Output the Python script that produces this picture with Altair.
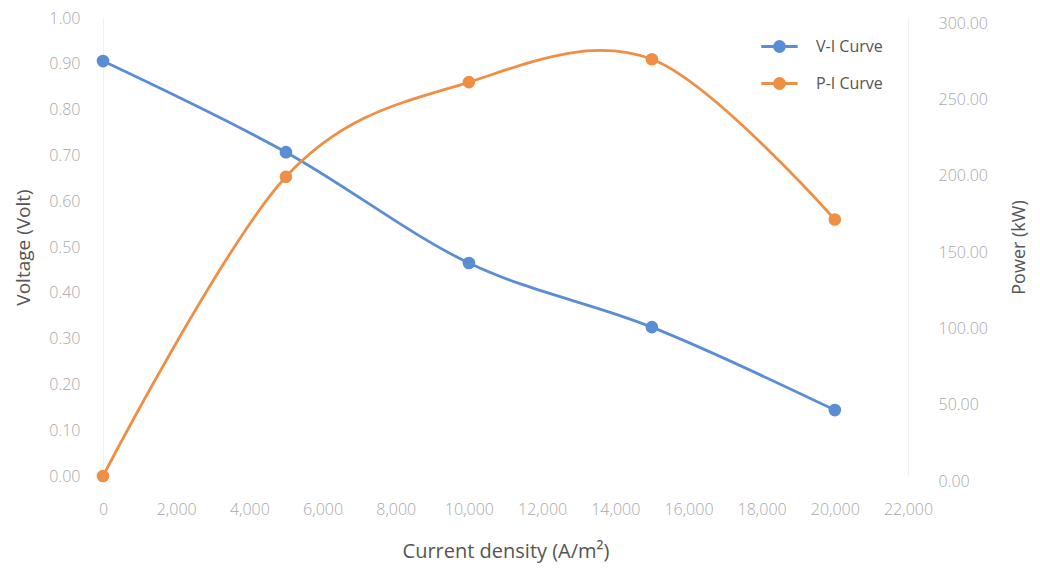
import altair as alt
import pandas as pd

current = [0, 5000, 10000, 15000, 20000]
voltage = [0.906, 0.707, 0.465, 0.325, 0.144]
power = [0.0, 196.0, 258.0, 273.0, 168.0]
series = ["V-I Curve", "P-I Curve"]
colors = ["#5b8dd5", "#ee8f45"]

dv = pd.DataFrame({"I": current, "val": voltage, "s": series[0]})
dp = pd.DataFrame({"I": current, "val": power, "s": series[1]})

FONT = "Open Sans"
xenc = alt.X("I:Q", scale=alt.Scale(domain=[0, 22000], nice=False),
             axis=alt.Axis(values=list(range(0, 22001, 2000)), format=",d",
                           title="Current density (A/m²)", grid=False, ticks=False,
                           labelFlush=False, labelOverlap=False, titleFontSize=20,
                           domain=False, labelPadding=25, titlePadding=24))
color = alt.Color("s:N", scale=alt.Scale(domain=series, range=colors),
                  legend=alt.Legend(title=None, orient="none", legendX=666, legendY=18,
                                    symbolType="M-2,0L-0.55,0M0.55,0L2,0M-0.55,0A0.55,0.55 0 1,1 0.55,0A0.55,0.55 0 1,1 -0.55,0",
                                    symbolSize=330, symbolStrokeWidth=2.8,
                                    labelFontSize=16, labelColor="#555555", labelFont=FONT,
                                    rowPadding=14, symbolOffset=0, labelOffset=26))

vl = alt.Chart(dv).mark_line(interpolate="cardinal", strokeWidth=2.8,
                             point=alt.OverlayMarkDef(filled=True, size=160)).encode(
    x=xenc,
    y=alt.Y("val:Q", scale=alt.Scale(domain=[0, 1], nice=False),
            axis=alt.Axis(values=[i / 10 for i in range(11)], format=".2f", title="Voltage (Volt)",
                          grid=False, ticks=False, domain=True, domainColor="#f0f0f0",
                          titleFontSize=19,
                          labelPadding=23, titlePadding=15, orient="left")),
    color=color,
)
pl = alt.Chart(dp).mark_line(interpolate="cardinal", strokeWidth=2.8,
                             point=alt.OverlayMarkDef(filled=True, size=160)).encode(
    x=xenc,
    y=alt.Y("val:Q", scale=alt.Scale(domain=[0, 300], nice=False),
            axis=alt.Axis(values=list(range(0, 301, 50)), format=".2f", title="Power (kW)",
                          grid=False, ticks=False, domain=True, domainColor="#f0f0f0",
                          titleFontSize=18,
                          labelPadding=30, labelOffset=5, titlePadding=41, titleAngle=270,
                          orient="right")),
    color=color,
)

chart = alt.layer(vl, pl).resolve_scale(y="independent").properties(
    width=805, height=458,
    padding={"left": 95, "top": 10, "right": 124, "bottom": 88},
    autosize=alt.AutoSizeParams(type="none"),
).configure_view(stroke=None).configure_axis(
    labelFont=FONT, titleFont=FONT, labelFontSize=16, labelFontWeight=300, labelColor="#a8a8a8",
    titleFontSize=17, titleFontWeight="normal", titleColor="#555555",
)

chart.save("out.html", embed_options={"renderer": "svg", "actions": False})
